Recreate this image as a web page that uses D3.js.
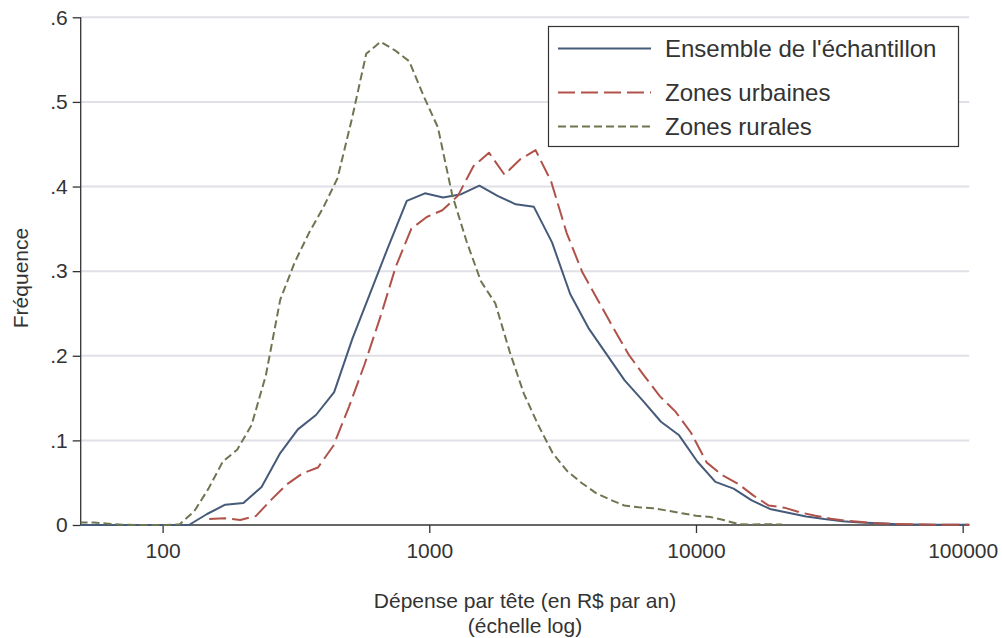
<html>
<head>
<meta charset="utf-8">
<title>Dépense par tête</title>
<style>
  body { margin: 0; background: #fff; }
  text { font-family: "Liberation Sans", Arial, sans-serif; fill: #333; }
</style>
</head>
<body>
<script src="https://cdn.jsdelivr.net/npm/d3@7/dist/d3.min.js"></script>
<script>
// dépense par tête (R$)
var ensembleX = [49.0, 57.3, 67.0, 78.4, 91.7, 107.3, 125.5, 146.8, 171.7, 200.9, 235.0, 274.8, 321.5, 376.0, 439.8,
  514.5, 601.8, 703.9, 823.4, 963.1, 1126.5, 1317.7, 1541.3, 1802.9, 2108.9, 2466.8, 2885.4, 3375.1, 3947.9,
  4617.9, 5401.6, 6318.3, 7390.6, 8644.9, 10112, 11828, 13835, 16183, 18930, 22143, 25901, 30297, 35438,
  41453, 48488, 56717, 66343, 77602, 90772, 106177];
var ensembleY = [0, 0, 0, 0, 0, 0, 0, 0.013, 0.024, 0.026, 0.045, 0.084, 0.113, 0.130, 0.157,
  0.220, 0.275, 0.330, 0.383, 0.392, 0.387, 0.391, 0.401, 0.389, 0.379, 0.376, 0.334, 0.273, 0.233,
  0.202, 0.171, 0.147, 0.122, 0.106, 0.075, 0.051, 0.043, 0.029, 0.019, 0.0145, 0.010, 0.007, 0.0045,
  0.003, 0.002, 0.001, 0.0007, 0.0004, 0.0003, 0.0002];

var urbainX = [149.5, 171.0, 195.5, 223.6, 255.7, 292.4, 334.4, 382.5, 437.4, 500.2, 572.1, 654.2, 748.2,
  855.7, 978.6, 1119.1, 1279.9, 1463.7, 1674.0, 1914.4, 2189.4, 2503.9, 2863.6, 3274.9, 3745.3, 4283.2,
  4898.5, 5602.1, 6406.7, 7327.0, 8379.4, 9583.0, 10959, 12534, 14334, 16393, 18748, 21441, 24520, 28042,
  32070, 36677, 41945, 47970, 54860, 62740, 71752, 82058, 93845, 107325];
var urbainY = [0.007, 0.008, 0.006, 0.0105, 0.030, 0.048, 0.061, 0.068, 0.094, 0.140, 0.190, 0.245, 0.305,
  0.350, 0.364, 0.372, 0.389, 0.424, 0.440, 0.414, 0.432, 0.443, 0.406, 0.345, 0.299, 0.266,
  0.233, 0.201, 0.176, 0.152, 0.134, 0.109, 0.074, 0.059, 0.049, 0.035, 0.023, 0.0205, 0.015, 0.011,
  0.0075, 0.005, 0.0035, 0.002, 0.0012, 0.0008, 0.0005, 0.0003, 0.0003, 0.0002];

var ruralX = [48.8, 55.2, 62.5, 70.7, 80.0, 90.6, 102.5, 116.0, 131.3, 148.6, 168.2, 190.4, 215.5, 243.9,
  276.0, 312.4, 353.6, 400.2, 452.9, 512.6, 580.2, 656.7, 743.2, 841.2, 952.0, 1077, 1219, 1380, 1562,
  1768, 2001, 2264, 2563, 2901, 3283, 3716, 4206, 4760, 5388, 6098, 6902, 7811, 8841, 10006, 11325,
  12818, 14507, 16419, 18583, 21032];
var ruralY = [0.003, 0.003, 0.0015, 0.0003, 0, 0, 0, 0.001, 0.016, 0.043, 0.075, 0.089, 0.118, 0.177,
  0.266, 0.310, 0.345, 0.375, 0.410, 0.480, 0.557, 0.571, 0.561, 0.548, 0.507, 0.470, 0.390, 0.335, 0.288,
  0.262, 0.205, 0.155, 0.118, 0.085, 0.064, 0.050, 0.038, 0.030, 0.023, 0.021, 0.0197, 0.017, 0.014,
  0.011, 0.0095, 0.0055, 0.001, 0.0005, 0.001, 0.0005];

var xTicks = [100, 1000, 10000, 100000];
var yTicks = [0, 0.1, 0.2, 0.3, 0.4, 0.5, 0.6];
var seriesNames = ["Ensemble de l'échantillon", "Zones urbaines", "Zones rurales"];

var series = [
  { name: seriesNames[0], xs: ensembleX, ys: ensembleY, color: "#465a7a", dash: null },
  { name: seriesNames[1], xs: urbainX, ys: urbainY, color: "#b0524a", dash: "17,6" },
  { name: seriesNames[2], xs: ruralX, ys: ruralY, color: "#6c7650", dash: "8,4" }
];

var W = 1002, H = 638;
var plotL = 80.7, plotR = 969.3, plotT = 17.3, plotB = 525;

var svg = d3.select('body').append('svg')
  .attr('width', W)
  .attr('height', H);

var x = d3.scaleLog().domain([49.3, 105900]).range([plotL, plotR]);
var y = d3.scaleLinear().domain([0, 0.6]).range([plotB, plotT]);

// grid
svg.append('g')
  .selectAll('line')
  .data(yTicks.slice(1))
  .enter()
  .append('line')
  .attr('x1', plotL)
  .attr('x2', plotR)
  .attr('y1', function(d) { return y(d); })
  .attr('y2', function(d) { return y(d); })
  .style('stroke', '#e0e0e7')
  .style('stroke-width', 2);

svg.append('defs').append('clipPath').attr('id', 'plot')
  .append('rect')
  .attr('x', plotL).attr('y', 0)
  .attr('width', plotR - plotL).attr('height', plotB + 1);

var line = d3.line()
  .x(function(d) { return x(d[0]); })
  .y(function(d) { return y(d[1]); });

// axes
var xAxis = d3.axisBottom(x)
  .tickValues(xTicks)
  .tickFormat(d3.format('d'))
  .tickSize(8)
  .tickPadding(10);

var gx = svg.append('g')
  .attr('transform', 'translate(0,' + plotB + ')')
  .call(xAxis);
gx.select('.domain').attr('d', 'M' + plotL + ',0H' + plotR);

var yAxis = d3.axisLeft(y)
  .tickValues(yTicks)
  .tickFormat(function(d) { return d === 0 ? '0' : d3.format('.1f')(d).replace(/^0/, ''); })
  .tickSize(8)
  .tickPadding(5);

var gy = svg.append('g')
  .attr('transform', 'translate(' + plotL + ',0)')
  .call(yAxis);
gy.select('.domain').attr('d', 'M0,' + plotT + 'V' + plotB);

svg.selectAll('.domain, .tick line')
  .style('stroke', '#333')
  .style('stroke-width', 1.3);
svg.selectAll('.tick text')
  .style('font-size', '21px')
  .style('font-family', '"Liberation Sans", Arial, sans-serif')
  .style('fill', '#333');

svg.append('g')
  .attr('clip-path', 'url(#plot)')
  .selectAll('path')
  .data(series)
  .enter()
  .append('path')
  .attr('d', function(s) { return line(d3.zip(s.xs, s.ys)); })
  .style('fill', 'none')
  .style('stroke', function(s) { return s.color; })
  .style('stroke-width', 2)
  .style('stroke-dasharray', function(s) { return s.dash; })
  .style('stroke-linejoin', 'round');

// titles
svg.append('text')
  .attr('x', 525)
  .attr('y', 608)
  .attr('text-anchor', 'middle')
  .style('font-size', '21px')
  .text('Dépense par tête (en R$ par an)');
svg.append('text')
  .attr('x', 525)
  .attr('y', 633)
  .attr('text-anchor', 'middle')
  .style('font-size', '21px')
  .text('(échelle log)');
svg.append('text')
  .attr('transform', 'translate(28,278) rotate(-90)')
  .attr('text-anchor', 'middle')
  .style('font-size', '21px')
  .text('Fréquence');

// legend
var legend = svg.append('g');
legend.append('rect')
  .attr('x', 548.5)
  .attr('y', 26.5)
  .attr('width', 410)
  .attr('height', 120)
  .style('fill', '#fff')
  .style('stroke', '#333')
  .style('stroke-width', 1.2);

var legendY = [48.5, 92.5, 126.5];
var item = legend.selectAll('g.item')
  .data(series)
  .enter()
  .append('g')
  .attr('class', 'item')
  .attr('transform', function(d, i) { return 'translate(0,' + legendY[i] + ')'; });

item.append('line')
  .attr('x1', 558)
  .attr('x2', 651)
  .style('stroke', function(d) { return d.color; })
  .style('stroke-width', 2)
  .style('stroke-dasharray', function(d) { return d.dash; });

item.append('text')
  .attr('x', 665)
  .attr('dy', '0.35em')
  .style('font-size', '24px')
  .text(function(d) { return d.name; });
</script>
</body>
</html>
